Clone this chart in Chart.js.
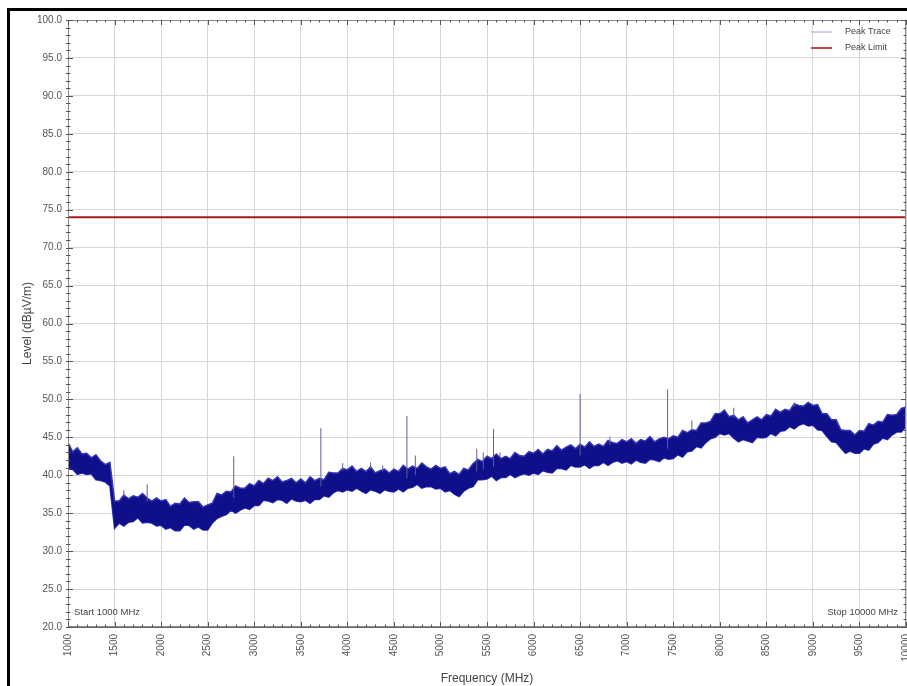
<!DOCTYPE html>
<html>
<head>
<meta charset="utf-8">
<script src="https://cdn.jsdelivr.net/npm/chart.js@4.4.1/dist/chart.umd.min.js"></script>
<style>
  html, body { margin: 0; padding: 0; background: #fff; }
  #frame {
    position: absolute; left: 7px; top: 8px;
    width: 900px; height: 678px;
    border-left: 3px solid #000; border-top: 3px solid #000;
  }
  #box { position: relative; width: 897px; height: 675px; }
</style>
</head>
<body>
<div id="frame"><div id="box"><canvas id="emcChart"></canvas></div></div>
<script>
// sweep: 1000 .. 10000 MHz, one reading every 50 MHz
const freqStart = 1000;
const freqStep = 50;

// upper edge of the peak trace band (dBuV/m)
const traceUpper = [
    44.3, 43.1, 43.6, 42.8, 42.9, 42.3, 42.7, 41.9, 41.4, 41.7,
    36.6, 36.6, 37.4, 36.9, 37.3, 37.1, 37.6, 37.0, 36.6, 37.0,
    36.6, 36.8, 35.9, 36.3, 36.2, 37.0, 36.4, 36.5, 36.5, 35.8,
    36.1, 36.3, 37.6, 37.4, 37.9, 37.8, 38.6, 38.3, 38.3, 38.9,
    38.6, 39.3, 38.9, 39.6, 39.3, 39.8, 39.1, 39.3, 39.6, 39.0,
    39.5, 39.0, 39.8, 39.3, 39.6, 39.4, 40.4, 40.3, 40.3, 40.9,
    40.7, 41.2, 40.5, 40.9, 40.5, 41.1, 40.3, 40.6, 40.8, 40.3,
    40.8, 40.5, 41.3, 40.8, 41.2, 40.9, 41.6, 41.1, 40.8, 41.3,
    40.9, 41.1, 40.2, 40.5, 40.1, 40.9, 40.7, 41.5, 42.1, 41.8,
    42.5, 42.2, 42.8, 42.2, 42.5, 42.2, 43.0, 42.6, 42.5, 43.1,
    42.9, 43.4, 42.8, 43.4, 43.2, 43.9, 43.3, 43.7, 44.0, 43.5,
    44.1, 43.7, 44.4, 43.8, 44.1, 43.8, 44.6, 44.3, 44.2, 44.7,
    44.4, 44.8, 44.2, 44.7, 44.5, 45.1, 44.4, 44.8, 45.0, 44.8,
    45.2, 45.0, 45.9, 45.6, 46.0, 45.9, 46.9, 46.9, 47.1, 48.1,
    48.1, 48.6, 47.7, 47.9, 47.3, 47.7, 46.9, 47.3, 47.7, 47.3,
    48.0, 47.8, 48.7, 48.3, 48.7, 48.5, 49.4, 49.2, 49.1, 49.6,
    49.2, 49.3, 48.1, 48.1, 47.3, 47.3, 46.0, 45.9, 45.9, 45.3,
    45.9, 45.8, 46.8, 46.6, 47.1, 47.0, 48.0, 47.9, 48.0, 48.8,
    49.0
];

// lower edge of the peak trace band (dBuV/m)
const traceLower = [
    40.8, 40.8, 40.1, 40.3, 40.1, 40.2, 39.4, 39.3, 39.1, 38.6,
    33.0, 33.7, 33.3, 33.8, 33.9, 34.4, 33.7, 33.8, 33.7, 33.3,
    33.4, 32.9, 33.1, 32.7, 32.7, 33.4, 33.4, 32.9, 33.2, 32.8,
    32.8, 33.7, 34.3, 34.6, 34.8, 35.4, 35.0, 35.4, 35.7, 35.5,
    36.0, 36.0, 36.7, 36.6, 36.4, 36.8, 36.7, 36.3, 36.9, 36.6,
    36.5, 36.7, 36.3, 36.8, 36.8, 37.3, 37.1, 37.7, 38.0, 37.8,
    38.1, 37.9, 38.3, 37.9, 37.6, 38.1, 37.9, 37.6, 38.1, 37.9,
    37.8, 38.2, 37.8, 38.3, 38.4, 38.8, 38.3, 38.5, 38.5, 38.2,
    38.3, 37.8, 38.0, 37.5, 37.2, 37.9, 38.3, 38.5, 39.4, 39.4,
    39.5, 39.9, 39.3, 39.7, 39.7, 40.1, 39.7, 40.0, 40.2, 40.0,
    40.3, 40.1, 40.6, 40.4, 40.3, 40.9, 40.9, 40.7, 41.3, 41.1,
    41.1, 41.4, 40.9, 41.3, 41.3, 41.7, 41.3, 41.7, 41.9, 41.6,
    41.8, 41.5, 42.0, 41.7, 41.6, 42.1, 42.0, 41.8, 42.3, 42.1,
    42.2, 42.7, 42.4, 43.1, 43.2, 43.8, 43.6, 44.3, 44.8, 45.0,
    45.5, 45.3, 45.5, 44.9, 44.4, 44.7, 44.5, 44.3, 45.0, 44.9,
    45.0, 45.5, 45.2, 45.8, 45.9, 46.4, 46.1, 46.6, 46.8, 46.5,
    46.6, 46.0, 45.9, 45.1, 44.4, 44.3, 43.6, 42.9, 43.2, 42.9,
    42.9, 43.5, 43.3, 44.1, 44.3, 44.9, 44.7, 45.3, 45.7, 45.7,
    46.4
];

// narrow emissions sticking out of the noise floor
const spikeFreq = [1600, 1850, 2780, 3716, 3950, 4250, 4380, 4640, 4730, 5390,
                   5460, 5570, 5640, 6500, 6820, 7440, 7700, 8150, 8800];
const spikeBase = [37.2, 36.5, 37.0, 38.5, 40.6, 40.8, 40.5, 39.6, 40.0, 40.5,
                   40.8, 41.1, 42.3, 42.6, 44.0, 43.5, 46.0, 47.6, 49.0];
const spikeTop  = [38.0, 38.8, 42.5, 46.2, 41.6, 41.7, 41.3, 47.8, 42.6, 43.5,
                   43.0, 46.1, 43.0, 50.7, 45.1, 51.3, 47.2, 48.9, 49.6];

// peak limit line
const limitFreq = [1000, 10000];
const limitLevel = [74, 74];

// axis ranges
const freqMin = 1000, freqMax = 10000;
const levelMin = 20, levelMax = 100;

const legendNames = ["Peak Trace", "Peak Limit"];
const startText = "Start 1000 MHz";
const stopText = "Stop 10000 MHz";

// build chart points
const upperPts = traceUpper.map((v, i) => ({ x: freqStart + i * freqStep, y: v }));
const lowerPts = traceLower.map((v, i) => ({ x: freqStart + i * freqStep, y: v }));
let spikePts = [];
for (const i in spikeFreq) {
    spikePts.push({ x: spikeFreq[i], y: spikeBase[i] });
    spikePts.push({ x: spikeFreq[i], y: spikeTop[i] });
    spikePts.push({ x: spikeFreq[i], y: null });
}
const limitPts = limitFreq.map((f, i) => ({ x: f, y: limitLevel[i] }));

const FONT = "'Liberation Sans', Arial, sans-serif";

// frame, inward tick marks, legend and start/stop notes
const decorPlugin = {
    id: 'decor',
    afterDraw(chart) {
        const ctx = chart.ctx;
        const a = chart.chartArea;
        const xs = chart.scales.x, ys = chart.scales.y;
        ctx.save();
        ctx.strokeStyle = '#8a8a8a';
        ctx.lineWidth = 1;
        ctx.strokeRect(a.left + 0.5, a.top + 0.5, a.right - a.left - 1, a.bottom - a.top - 1);

        ctx.strokeStyle = '#555';
        ctx.beginPath();
        for (let f = freqMin; f <= freqMax; f += 100) {
            const px = Math.round(xs.getPixelForValue(f)) + 0.5;
            const len = f % 500 === 0 ? 5 : 2.5;
            ctx.moveTo(px, a.bottom); ctx.lineTo(px, a.bottom - len);
            ctx.moveTo(px, a.top); ctx.lineTo(px, a.top + len);
        }
        for (let v = levelMin; v <= levelMax; v += 1) {
            const py = Math.round(ys.getPixelForValue(v)) + 0.5;
            const len = v % 5 === 0 ? 5 : 2.5;
            ctx.moveTo(a.left - 2, py); ctx.lineTo(a.left + len, py);
            ctx.moveTo(a.right, py); ctx.lineTo(a.right - len, py);
        }
        ctx.stroke();

        // legend, top right inside the plot
        ctx.font = '9px ' + FONT;
        ctx.textBaseline = 'middle';
        ctx.textAlign = 'left';
        const legendColors = ['#9aa2d8', '#c04848'];
        legendNames.forEach((name, i) => {
            const y = a.top + 12 + i * 16;
            ctx.strokeStyle = legendColors[i];
            ctx.lineWidth = i === 0 ? 1 : 2;
            ctx.beginPath();
            ctx.moveTo(a.right - 95, y);
            ctx.lineTo(a.right - 74, y);
            ctx.stroke();
            ctx.fillStyle = '#444';
            ctx.fillText(name, a.right - 61, y);
        });

        ctx.font = '9.5px ' + FONT;
        ctx.fillStyle = '#444';
        ctx.fillText(startText, a.left + 6, a.bottom - 15);
        ctx.textAlign = 'right';
        ctx.fillText(stopText, a.right - 8, a.bottom - 15);
        ctx.restore();
    }
};

const chrt = document.getElementById('emcChart');

new Chart(chrt, {
    type: 'line',
    data: {
        datasets: [{
            label: 'band low',
            data: lowerPts,
            borderColor: '#3434b8',
            borderWidth: 1.5,
            pointRadius: 0,
            fill: false,
            order: 3
        }, {
            label: legendNames[0],
            data: upperPts,
            borderColor: '#3434b8',
            borderWidth: 1.5,
            pointRadius: 0,
            backgroundColor: '#0f0f8a',
            fill: '-1',
            order: 2
        }, {
            label: 'spikes',
            data: spikePts,
            borderColor: '#5e5e96',
            borderWidth: 1,
            pointRadius: 0,
            spanGaps: false,
            fill: false,
            order: 1
        }, {
            label: legendNames[1],
            data: limitPts,
            borderColor: '#a81818',
            borderWidth: 2,
            pointRadius: 0,
            fill: false,
            order: 0
        }]
    },
    options: {
        responsive: true,
        maintainAspectRatio: false,
        animation: false,
        events: [],
        layout: { padding: { left: 0, right: 1, top: 9, bottom: 0 } },
        plugins: {
            legend: { display: false },
            tooltip: { enabled: false }
        },
        scales: {
            x: {
                type: 'linear',
                min: freqMin,
                max: freqMax,
                afterFit: (s) => { s.height = 59; s.paddingLeft = 0; s.paddingRight = 0; },
                border: { display: true, color: '#666' },
                grid: {
                    drawTicks: false,
                    color: (c) => (c.tick && c.tick.value % 500 === 0) ? '#d6d6d6' : 'rgba(0,0,0,0)'
                },
                ticks: {
                    stepSize: 100,
                    maxTicksLimit: 200,
                    autoSkip: false,
                    minRotation: 90,
                    maxRotation: 90,
                    padding: 7,
                    color: '#555',
                    font: { family: FONT, size: 10 },
                    callback: (v) => v % 500 === 0 ? String(v) : ''
                },
                title: {
                    display: true,
                    text: 'Frequency (MHz)',
                    color: '#444',
                    font: { family: FONT, size: 12 },
                    padding: { top: 5, bottom: 0 }
                }
            },
            y: {
                min: levelMin,
                max: levelMax,
                afterFit: (s) => { s.width = 58; s.paddingTop = 0; s.paddingBottom = 0; },
                border: { display: true, color: '#666' },
                grid: {
                    drawTicks: false,
                    color: (c) => (c.tick && c.tick.value % 5 === 0) ? '#d6d6d6' : 'rgba(0,0,0,0)'
                },
                ticks: {
                    stepSize: 1,
                    maxTicksLimit: 200,
                    autoSkip: false,
                    padding: 6,
                    color: '#555',
                    font: { family: FONT, size: 10 },
                    callback: (v) => v % 5 === 0 ? v.toFixed(1) : ''
                },
                title: {
                    display: true,
                    text: 'Level (dBµV/m)',
                    color: '#444',
                    font: { family: FONT, size: 12 },
                    padding: { top: 10, bottom: 0 }
                }
            }
        }
    },
    plugins: [decorPlugin]
});
</script>
</body>
</html>
